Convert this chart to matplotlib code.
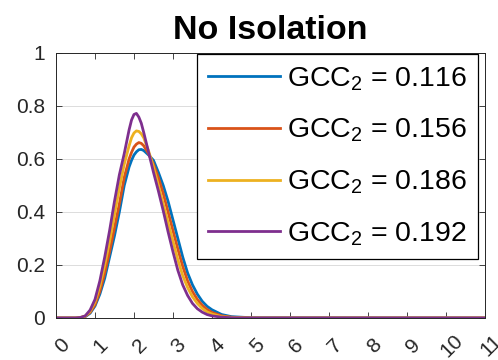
import matplotlib
matplotlib.use('Agg')
import matplotlib.pyplot as plt
import matplotlib.transforms as mtransforms

plt.rcParams['font.family'] = ['Liberation Sans', 'DejaVu Sans']
plt.rcParams['mathtext.fontset'] = 'custom'
plt.rcParams['mathtext.rm'] = 'Liberation Sans'
plt.rcParams['mathtext.it'] = 'Liberation Sans'

# values
x = [0, 0.5, 0.625, 0.75, 0.875, 1.0, 1.125, 1.25, 1.375, 1.5, 1.625, 1.75,
     1.875, 1.9375, 2.0, 2.0625, 2.125, 2.1875, 2.25, 2.375, 2.5, 2.625, 2.75,
     2.875, 3.0, 3.125, 3.25, 3.375, 3.5, 3.625, 3.75, 3.875, 4.0, 4.25, 4.5,
     5.0, 11]
y_116 = [0, 0, 0.001, 0.005, 0.018, 0.045, 0.09, 0.15, 0.23, 0.31, 0.40, 0.50,
         0.57, 0.595, 0.615, 0.627, 0.635, 0.636, 0.632, 0.615, 0.595, 0.55,
         0.50, 0.44, 0.37, 0.30, 0.23, 0.17, 0.125, 0.09, 0.063, 0.044, 0.031,
         0.013, 0.005, 0.001, 0]
y_156 = [0, 0, 0.001, 0.006, 0.021, 0.05, 0.10, 0.17, 0.25, 0.34, 0.43, 0.53,
         0.60, 0.625, 0.645, 0.656, 0.662, 0.659, 0.65, 0.62, 0.58, 0.53, 0.47,
         0.40, 0.33, 0.26, 0.195, 0.14, 0.10, 0.07, 0.048, 0.032, 0.021, 0.008,
         0.003, 0, 0]
y_186 = [0, 0, 0.002, 0.007, 0.025, 0.06, 0.12, 0.20, 0.29, 0.39, 0.49, 0.58,
         0.65, 0.68, 0.698, 0.706, 0.704, 0.695, 0.68, 0.63, 0.57, 0.50, 0.43,
         0.36, 0.29, 0.22, 0.16, 0.115, 0.08, 0.055, 0.036, 0.023, 0.015, 0.005,
         0.002, 0, 0]
y_192 = [0, 0, 0.002, 0.008, 0.03, 0.07, 0.14, 0.23, 0.33, 0.44, 0.54, 0.62,
         0.71, 0.747, 0.768, 0.772, 0.758, 0.735, 0.70, 0.625, 0.55, 0.48, 0.405,
         0.325, 0.25, 0.18, 0.125, 0.085, 0.055, 0.035, 0.022, 0.013, 0.008,
         0.003, 0.001, 0, 0]
gcc = ['0.116', '0.156', '0.186', '0.192']
colors = ['#0072BD', '#D95319', '#EDB120', '#7E2F8E']

fig = plt.figure(figsize=(4.98, 3.6), dpi=100)
ax = fig.add_axes([0.1124, 0.1167, 0.8614, 0.7361])

for ys, g, c in zip([y_116, y_156, y_186, y_192], gcc, colors):
    ax.plot(x, ys, color=c, lw=2.0, label='GCC$_2$ = ' + g)

ax.set_xlim(0, 11)
ax.set_ylim(0, 1)
ax.set_xticks(range(12))
ax.set_yticks([0, 0.2, 0.4, 0.6, 0.8, 1])
ax.set_yticklabels(['0', '0.2', '0.4', '0.6', '0.8', '1'])
ax.tick_params(direction='in', top=True, right=True, labelsize=15,
               colors='#262626', length=4, width=0.6)
ax.tick_params(axis='x', pad=20)
ax.tick_params(axis='y', pad=8)
ax.set_xticklabels([str(i) for i in range(12)], rotation=45,
                   rotation_mode='anchor', ha='center', va='center')
shift = mtransforms.ScaledTranslation(6 / 100, 0, fig.dpi_scale_trans)
for lbl in ax.get_xticklabels():
    lbl.set_transform(lbl.get_transform() + shift)
ax.grid(axis='y', color='#dcdcdc', lw=0.7)
ax.set_axisbelow(True)
for s in ax.spines.values():
    s.set_color('#262626')
    s.set_linewidth(0.7)

ax.set_title('No Isolation', fontsize=24.5, fontweight='bold', pad=10)

leg = ax.legend(loc='upper right', bbox_to_anchor=(0.984, 0.995), fontsize=20.5,
                frameon=True, fancybox=False, framealpha=1, edgecolor='black',
                handlelength=2.55, handletextpad=0.25, labelspacing=0.85,
                borderpad=0.38, borderaxespad=0.0)
leg.get_frame().set_linewidth(0.9)

fig.savefig('out.png', dpi=100)
